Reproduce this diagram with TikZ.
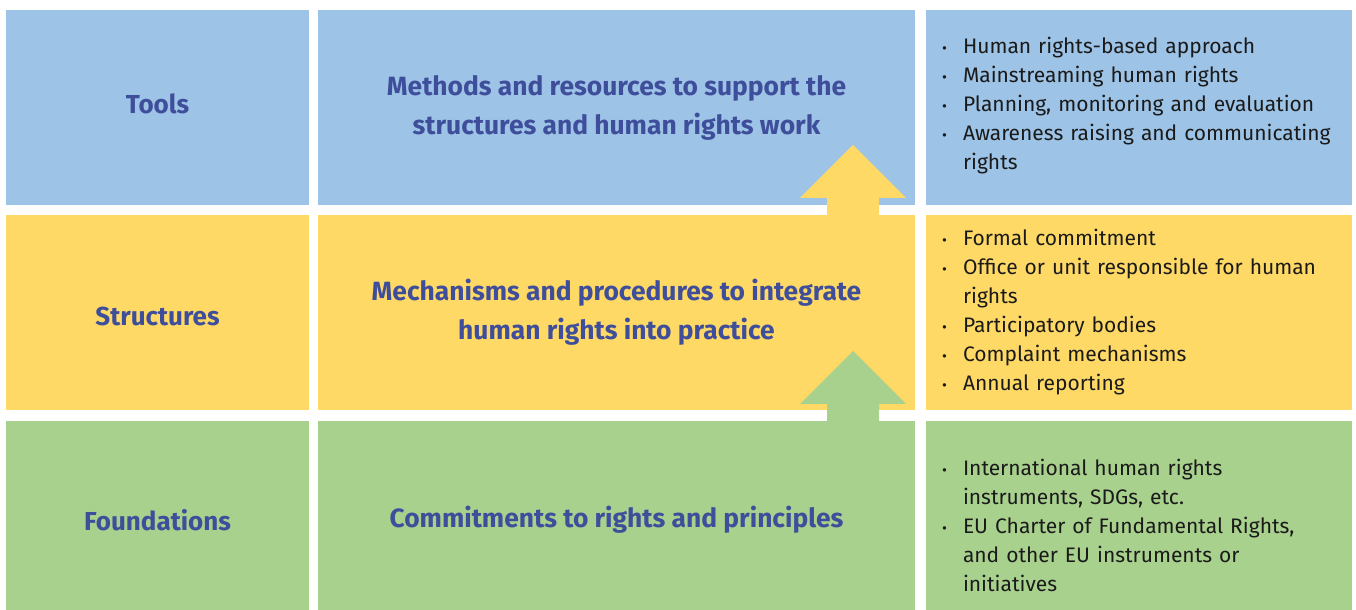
\documentclass[tikz,border=0pt]{standalone}
\usepackage{fontspec}
\setmainfont{Fira Sans}
\usetikzlibrary{positioning, calc}
\definecolor{toolsblue}{HTML}{9DC3E6}
\definecolor{structyellow}{HTML}{FFD966}
\definecolor{foundgreen}{HTML}{A9D18E}
\definecolor{headblue}{HTML}{3F4E9B}
\definecolor{listblack}{HTML}{1A1A1A}
% bullet list used inside the right hand cells
\newenvironment{celllist}{%
  \begin{list}{\fontsize{7.5}{7.5}\selectfont\textbullet}{%
    \setlength{\leftmargin}{18.5pt}\setlength{\labelwidth}{10.5pt}%
    \setlength{\labelsep}{8pt}\setlength{\rightmargin}{0pt}%
    \setlength{\topsep}{0pt}\setlength{\partopsep}{0pt}%
    \setlength{\parsep}{0pt}\setlength{\itemsep}{0pt}}}%
  {\end{list}}
% nudge a heading down without changing its box
\newcommand{\lowered}[2]{\raisebox{-#1}[\height][\depth]{#2}}
\tikzset{
  cell/.style={
    rectangle, inner sep=0pt, outer sep=0pt,
    minimum height=97.5pt
  },
  labelcell/.style={
    cell, minimum width=151.5pt, text=headblue,
    font=\bfseries\fontsize{13}{19.5}\selectfont
  },
  desccell/.style={
    cell, minimum width=298.5pt, align=center, text=headblue,
    font=\bfseries\fontsize{13.2}{19.5}\selectfont
  },
  listcell/.style={
    cell, minimum width=213pt, text width=213pt, align=left,
    text=listblack, font=\fontsize{10.5}{14.5}\selectfont
  },
}

\begin{document}
\begin{tikzpicture}
  \useasboundingbox (0,0) rectangle (678pt,305pt);
  % top row
  \node[labelcell, fill=toolsblue, anchor=north west] (tools) at (3pt,300pt) {\raisebox{4pt}{Tools}};
  \node[desccell, fill=toolsblue, right=4.5pt of tools] (toolsdesc)
    {Methods and resources to support the\\structures and human rights work};
  \node[listcell, fill=toolsblue, right=5.5pt of toolsdesc] (toolslist) {%
    \begin{celllist}
      \item Human rights-based approach
      \item Mainstreaming human rights
      \item Planning, monitoring and evaluation
      \item Awareness raising and communicating\newline rights
    \end{celllist}\vspace*{8pt}};
  % middle row
  \node[labelcell, fill=structyellow, below=5pt of tools] (struct) {\lowered{2pt}{Structures}};
  \node[desccell, fill=structyellow, right=4.5pt of struct] (structdesc)
    {Mechanisms and procedures to integrate\\human rights into practice};
  \node[listcell, fill=structyellow, right=5.5pt of structdesc] (structlist) {%
    \begin{celllist}
      \item Formal commitment
      \item Office or unit responsible for human\newline rights
      \item Participatory bodies
      \item Complaint mechanisms
      \item Annual reporting
    \end{celllist}\vspace*{7pt}};
  % bottom row
  \node[labelcell, fill=foundgreen, minimum height=94.5pt, below=5.5pt of struct] (found) {\lowered{2.5pt}{Foundations}};
  \node[desccell, fill=foundgreen, minimum height=94.5pt, right=4.5pt of found] (founddesc)
    {\lowered{2pt}{Commitments to rights and principles}};
  \node[listcell, fill=foundgreen, minimum height=94.5pt, right=5.5pt of founddesc] (foundlist) {%
    \vspace*{4pt}
    \begin{celllist}
      \item International human rights\newline instruments, SDGs, etc.
      \item EU Charter of Fundamental Rights,\newline and other EU instruments or\newline initiatives
    \end{celllist}};
  % block arrows pointing up into the row above
  \foreach \cell/\col in {structdesc/structyellow, founddesc/foundgreen}
    \fill[\col, shift={($(\cell.north east)+(-31pt,0)$)}]
      (-13pt,-1pt) -- (-13pt,8.5pt) -- (-26.5pt,8.5pt) -- (0,35pt)
      -- (26.5pt,8.5pt) -- (13pt,8.5pt) -- (13pt,-1pt) -- cycle;
\end{tikzpicture}
\end{document}
